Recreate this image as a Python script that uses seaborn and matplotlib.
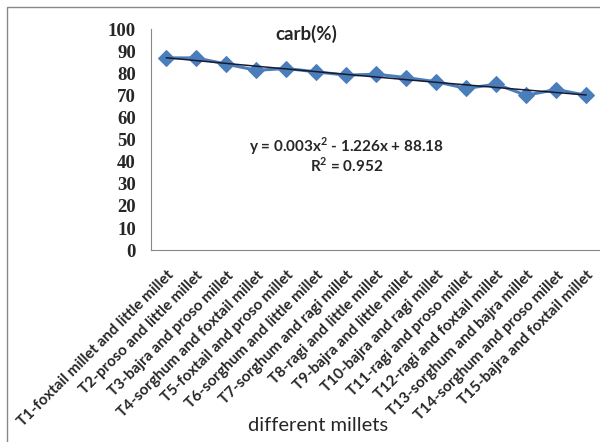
import numpy as np
import pandas as pd
import matplotlib
matplotlib.use("Agg")
import matplotlib.pyplot as plt
import seaborn as sns
from matplotlib.patches import Rectangle

categories = [
    "T1-foxtail millet and little millet",
    "T2-proso and little millet",
    "T3-bajra and proso millet",
    "T4-sorghum and foxtail millet",
    "T5-foxtail and proso millet",
    "T6-sorghum and little millet",
    "T7-sorghum and ragi millet",
    "T8-ragi and little millet",
    "T9-bajra and little millet",
    "T10-bajra and ragi millet",
    "T11-ragi and proso millet",
    "T12-ragi and foxtail millet",
    "T13-sorghum and bajra millet",
    "T14-sorghum and proso millet",
    "T15-bajra and foxtail millet",
]
carb = [87.0, 87.0, 84.2, 81.4, 82.2, 80.7, 79.2, 79.6, 78.1, 76.2, 73.2, 75.1, 70.1, 72.7, 70.1]
yticks = list(range(0, 101, 10))
title = "carb(%)"
xlabel = "different millets"
equation = "y = 0.003x$^{2}$ - 1.226x + 88.18"
r2_text = "R$^{2}$ = 0.952"

sns.set_style("white")
plt.rcParams["font.family"] = ["Lato", "DejaVu Sans"]
plt.rcParams["mathtext.fontset"] = "custom"
plt.rcParams["mathtext.rm"] = "Lato:bold"
plt.rcParams["mathtext.bf"] = "Lato:bold"

fig = plt.figure(figsize=(6.0, 4.42), dpi=100)
ax = fig.add_axes([0.252, 0.434, 0.75, 0.5])

pos = np.arange(len(carb))
df = pd.DataFrame({"pos": pos, "carb": carb})
sns.lineplot(data=df, x="pos", y="carb", ax=ax, color="#4a7ebb", linewidth=2.2,
             marker="D", markersize=8.5, markeredgecolor="#4a7ebb", sort=False, zorder=2)

# second-order polynomial trend line
xs = pos + 1
coef = np.polyfit(xs, carb, 2)
xx = np.linspace(1, len(carb), 200)
ax.plot(xx - 1, np.polyval(coef, xx), color="#1a1a2e", linewidth=1.1, zorder=3)

ax.set_xlim(-0.5, len(carb) - 0.5)
ax.set_ylim(0, 100)
ax.set_yticks(yticks)
ax.set_yticklabels([str(v) for v in yticks], fontfamily="Liberation Serif",
                   fontweight="bold", fontsize=13.5)
ax.set_xticks(pos)
ax.set_xticklabels(categories, rotation=45, ha="right", va="top",
                   rotation_mode="anchor", fontweight="bold", fontsize=11)
ax.set_xticks(np.arange(-0.5, len(carb), 1.0), minor=True)
ax.tick_params(axis="x", which="major", length=0, pad=13)
ax.tick_params(axis="x", which="minor", length=5, color="#888888", width=1, direction="out")
ax.tick_params(axis="y", length=5, color="#888888", width=1, direction="out", pad=6)

for s in ["top", "right"]:
    ax.spines[s].set_visible(False)
ax.spines["left"].set_color("#888888")
ax.spines["bottom"].set_color("#888888")
ax.set_xlabel("")
ax.set_ylabel("")

fig.text(0.51, 0.923, title, ha="center", va="center", fontsize=13.5, fontweight="bold")
fig.text(0.577, 0.670, equation, ha="center", va="center", fontsize=11, fontweight="bold")
fig.text(0.577, 0.626, r2_text, ha="center", va="center", fontsize=11, fontweight="bold")
fig.text(0.53, 0.038, xlabel, ha="center", va="center", fontsize=14.5)

fig.patches.append(Rectangle((0.012, -0.01), 1.2, 0.995, transform=fig.transFigure,
                             fill=False, edgecolor="#888888", linewidth=1))

fig.savefig("out.png", dpi=100)
